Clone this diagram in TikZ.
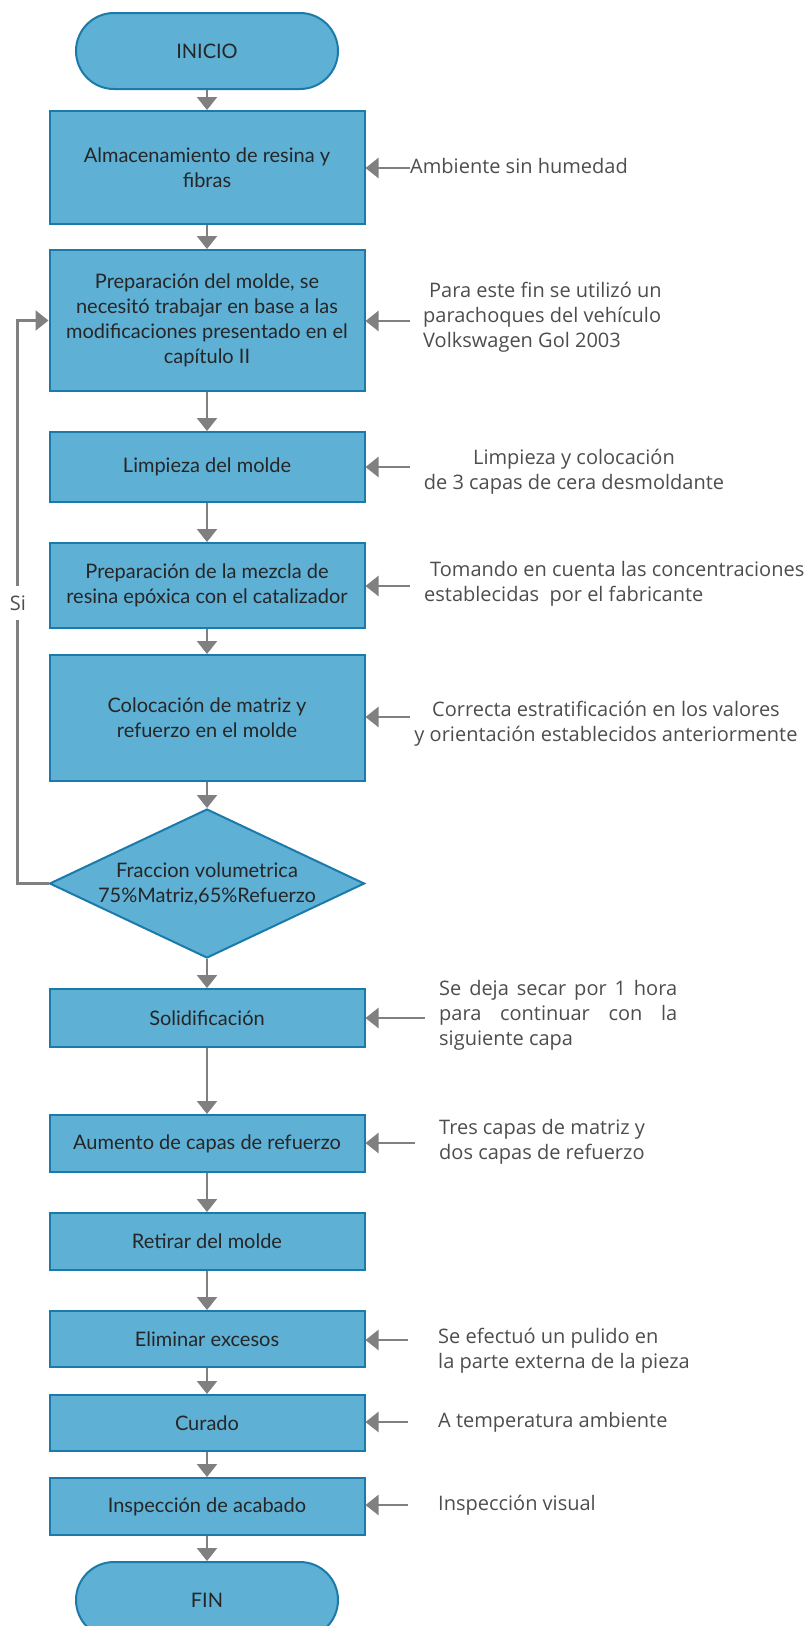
\documentclass[tikz,border=0pt]{standalone}
\usepackage{fontspec}
\setmainfont{Lato}
\newfontfamily\notafont{Open Sans}
\usetikzlibrary{shapes.geometric,arrows.meta}

\definecolor{relleno}{HTML}{5EB0D5}
\definecolor{borde}{HTML}{1A7BAA}
\definecolor{gris}{HTML}{808080}
\definecolor{textonota}{HTML}{4D4D4D}

\begin{document}
\begin{tikzpicture}[x=1pt,y=-1pt,
    caja/.style={draw=borde, fill=relleno, line width=2pt, minimum width=315pt,
        align=center, inner sep=2pt, text=black!85, font=\fontsize{20}{25}\selectfont},
    terminal/.style={caja, rounded corners=38pt, minimum width=262pt, minimum height=76pt},
    decision/.style={caja, diamond, aspect=2.1, inner sep=0pt, minimum height=149pt},
    nota/.style={inner sep=0pt, text=textonota, font=\notafont\fontsize{20}{25}\selectfont},
    flecha/.style={color=gris, line width=2.5pt, -{Triangle[width=20pt,length=13pt]}}]
    \useasboundingbox (0,0) rectangle (809,1626);

    % Proceso
    \node[terminal] (inicio) at (207,51) {INICIO};
    \node[caja, minimum height=113pt] (alm) at (207,167.5) {Almacenamiento de resina y\\fibras};
    \node[caja, minimum height=141pt] (prep) at (207,320.5) {Preparación del molde, se\\necesitó trabajar en base a las\\modificaciones presentado en el\\capítulo II};
    \node[caja, minimum height=70pt] (limp) at (207,467) {Limpieza del molde};
    \node[caja, minimum height=85pt] (mezcla) at (207,585.5) {Preparación de la mezcla de\\resina epóxica con el catalizador};
    \node[caja, minimum height=126pt] (coloc) at (207,718) {Colocación de matriz y\\refuerzo en el molde};
    \node[decision] (frac) at (207,883.5) {Fraccion volumetrica\\75\%Matriz,65\%Refuerzo};
    \node[caja, minimum height=58pt] (solid) at (207,1018) {Solidificación};
    \node[caja, minimum height=57pt] (aum) at (207,1143.5) {Aumento de capas de refuerzo};
    \node[caja, minimum height=57pt] (ret) at (207,1241.5) {Retirar del molde};
    \node[caja, minimum height=56pt] (elim) at (207,1339) {Eliminar excesos};
    \node[caja, minimum height=56pt] (cur) at (207,1423) {Curado};
    \node[caja, minimum height=57pt] (insp) at (207,1506.5) {Inspección de acabado};
    \node[terminal] (fin) at (207,1600) {FIN};

    % Flechas
    \draw[flecha] (inicio) -- (alm);
    \draw[flecha] (alm) -- (prep);
    \draw[flecha] (prep) -- (limp);
    \draw[flecha] (limp) -- (mezcla);
    \draw[flecha] (mezcla) -- (coloc);
    \draw[flecha] (coloc) -- (frac);
    \draw[flecha] (frac) -- (solid);
    \draw[flecha] (solid) -- (aum);
    \draw[flecha] (aum) -- (ret);
    \draw[flecha] (ret) -- (elim);
    \draw[flecha] (elim) -- (cur);
    \draw[flecha] (cur) -- (insp);
    \draw[flecha] (insp) -- (fin);

    % Retorno
    \draw[flecha] (frac.west) -- ++(-31,0) |- (prep.west);
    \node[nota, fill=white, inner xsep=1pt, inner ysep=10pt] (si) at (18,603) {Si};

    % Notas
    \node[nota, anchor=west] (n1) at (410,166) {Ambiente sin humedad};
    \node[nota, anchor=west, align=left] (n2) at (423,317) {\hspace*{6pt}Para este fin se utilizó un\\parachoques del vehículo\\Volkswagen Gol 2003};
    \node[nota, align=center] (n3) at (574,472) {Limpieza y colocación\\de 3 capas de cera desmoldante};
    \node[nota, anchor=west, align=left] (n4) at (424,584) {\hspace*{6pt}Tomando en cuenta las concentraciones\\establecidas\ \ por el fabricante};
    \node[nota, align=center] (n5) at (606,724) {Correcta estratificación en los valores\\y orientación establecidos anteriormente};
    \node[nota, anchor=west, align=left] (n6) at (439,1015) {\makebox[238pt][s]{Se deja secar por 1 hora}\\\makebox[238pt][s]{para continuar con la}\\siguiente capa};
    \node[nota, anchor=west, align=left] (n7) at (439,1142) {Tres capas de matriz y\\dos capas de refuerzo};
    \node[nota, anchor=west, align=left] (n8) at (438,1351) {Se efectuó un pulido en\\la parte externa de la pieza};
    \node[nota, anchor=west] (n9) at (438,1422) {A temperatura ambiente};
    \node[nota, anchor=west] (n10) at (438,1505) {Inspección visual};

    \coordinate (c1) at (410,168);
    \coordinate (c2) at (410,321);
    \coordinate (c3) at (410,467);
    \coordinate (c4) at (410,586);
    \coordinate (c5) at (410,717);
    \coordinate (c6) at (425,1018);
    \coordinate (c7) at (415,1143);
    \coordinate (c8) at (408,1340);
    \coordinate (c9) at (408,1422);
    \coordinate (c10) at (408,1505);
    \draw[flecha] (c1) -- (c1 -| alm.east);
    \draw[flecha] (c2) -- (c2 -| prep.east);
    \draw[flecha] (c3) -- (c3 -| limp.east);
    \draw[flecha] (c4) -- (c4 -| mezcla.east);
    \draw[flecha] (c5) -- (c5 -| coloc.east);
    \draw[flecha] (c6) -- (c6 -| solid.east);
    \draw[flecha] (c7) -- (c7 -| aum.east);
    \draw[flecha] (c8) -- (c8 -| elim.east);
    \draw[flecha] (c9) -- (c9 -| cur.east);
    \draw[flecha] (c10) -- (c10 -| insp.east);
\end{tikzpicture}
\end{document}
